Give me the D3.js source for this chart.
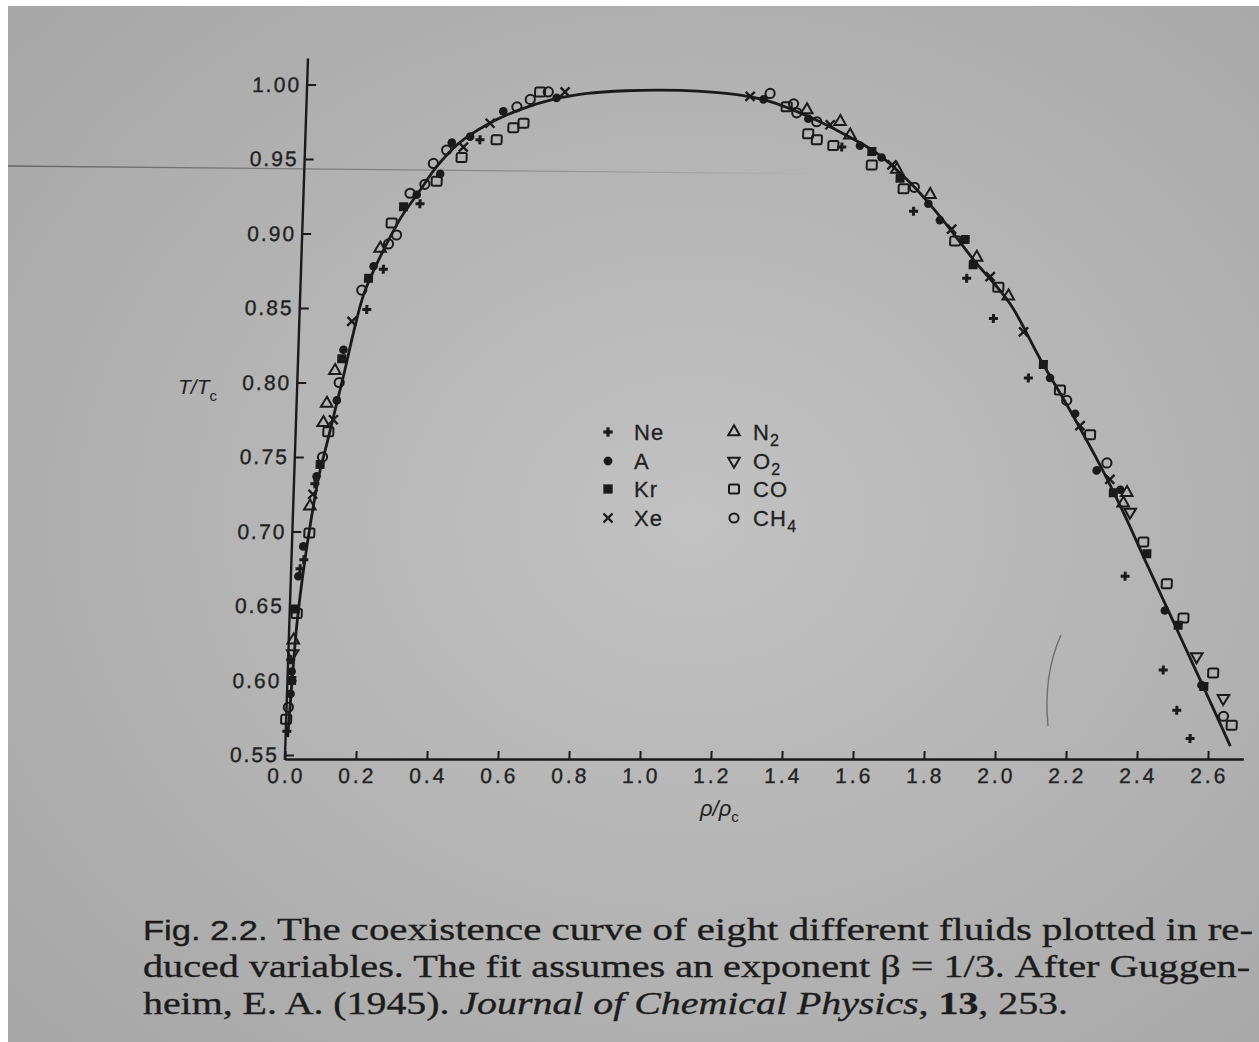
<!DOCTYPE html>
<html><head><meta charset="utf-8">
<script src="https://cdn.jsdelivr.net/npm/d3@7"></script>
<style>body{margin:0;background:#b4b4b4;} svg{display:block}</style>
</head><body><svg id="c" width="1259" height="1042"></svg>
<script>
// ---------- data ----------
const xTicks = [0,0.2,0.4,0.6,0.8,1.0,1.2,1.4,1.6,1.8,2.0,2.2,2.4,2.6];
const xTickLabels = ["0.0","0.2","0.4","0.6","0.8","1.0","1.2","1.4","1.6","1.8","2.0","2.2","2.4","2.6"];
const yTicks = [0.55,0.60,0.65,0.70,0.75,0.80,0.85,0.90,0.95,1.00];
const yTickLabels = ["0.55","0.60","0.65","0.70","0.75","0.80","0.85","0.90","0.95","1.00"];

// fitted coexistence curve
const curveRho = [0.006,0.013,0.022,0.034,0.049,0.070,0.090,0.113,0.130,0.155,0.180,0.225,0.275,0.328,0.373,0.430,0.510,0.600,0.694,0.790,0.900,1.000,1.100,1.200,1.300,1.420,1.515,1.611,1.708,1.800,1.895,2.000,2.090,2.190,2.270,2.345,2.400,2.460,2.520,2.580,2.662];
const curveT   = [0.562,0.600,0.640,0.672,0.703,0.738,0.760,0.786,0.805,0.835,0.860,0.886,0.910,0.929,0.945,0.960,0.973,0.983,0.990,0.994,0.9958,0.9962,0.9955,0.9935,0.989,0.978,0.967,0.954,0.934,0.910,0.882,0.853,0.816,0.777,0.744,0.710,0.683,0.654,0.625,0.596,0.556];

// measured points [rho/rho_c, T/T_c]
const Ne = [[0.003,0.566],[0.007,0.614],[0.025,0.675],[0.035,0.681],[0.059,0.732],[0.189,0.849],[0.232,0.876],[0.329,0.920],[0.492,0.963],
            [1.512,0.958],[1.720,0.915],[1.876,0.870],[1.955,0.843],[2.059,0.803],[2.350,0.670],[2.466,0.607],[2.508,0.580],[2.548,0.561]];
const Ar = [[0.010,0.591],[0.011,0.606],[0.021,0.670],[0.032,0.690],[0.063,0.737],[0.113,0.788],[0.127,0.822],[0.204,0.878],[0.319,0.926],[0.383,0.940],[0.413,0.961],[0.464,0.965],[0.555,0.982],[0.704,0.991],
            [1.287,0.990],[1.415,0.977],[1.563,0.959],[1.625,0.951],[1.761,0.920],[1.795,0.909],[2.120,0.803],[2.194,0.779],[2.260,0.741],[2.328,0.728],[2.465,0.647],[2.575,0.597]];
const Kr = [[0.012,0.600],[0.016,0.648],[0.072,0.745],[0.123,0.816],[0.191,0.870],[0.283,0.918],
            [1.597,0.955],[1.679,0.937],[1.868,0.896],[1.893,0.879],[2.100,0.812],[2.309,0.726],[2.409,0.685],[2.504,0.637],[2.582,0.596]];
const Xe = [[0.054,0.725],[0.105,0.775],[0.148,0.841],[0.446,0.958],[0.519,0.974],[0.727,0.995],
            [1.249,0.992],[1.477,0.973],[1.655,0.946],[1.829,0.903],[1.942,0.871],[2.041,0.834],[2.209,0.771],[2.298,0.735]];
const N2 = [[0.013,0.627],[0.047,0.717],[0.077,0.773],[0.085,0.786],[0.105,0.808],[0.221,0.890],
            [1.410,0.983],[1.505,0.975],[1.534,0.966],[1.669,0.943],[1.765,0.926],[1.902,0.884],[1.995,0.858],[2.347,0.726],[2.338,0.719]];
const O2 = [[0.012,0.618],[2.358,0.713],[2.559,0.616],[2.638,0.588]];
const CO = [[0.000,0.574],[0.020,0.645],[0.048,0.699],[0.092,0.767],[0.251,0.907],[0.374,0.935],[0.442,0.951],[0.539,0.963],[0.585,0.971],[0.613,0.974],[0.657,0.995],
            [1.353,0.985],[1.416,0.967],[1.441,0.963],[1.488,0.959],[1.598,0.946],[1.690,0.930],[1.840,0.895],[1.966,0.864],[2.149,0.795],[2.238,0.765],[2.398,0.693],[2.468,0.665],[2.518,0.642],[2.607,0.605],[2.664,0.570]];
const CH4 = [[0.005,0.582],[0.078,0.750],[0.118,0.800],[0.173,0.862],[0.244,0.893],[0.266,0.899],[0.300,0.927],[0.341,0.933],[0.363,0.947],[0.399,0.956],[0.593,0.985],[0.630,0.990],[0.680,0.995],
            [1.305,0.994],[1.372,0.987],[1.382,0.981],[1.439,0.975],[1.720,0.931],[2.169,0.788],[2.288,0.746],[2.640,0.576]];

const legendNames = ["Ne","A","Kr","Xe","N","O","CO","CH"];
const legendSubs  = ["","","","","2","2","","4"];
const symbolKeys  = ["plus","dot","fsq","times","tri","tridown","osq","ocirc"];
const seriesData  = [Ne, Ar, Kr, Xe, N2, O2, CO, CH4];

// ---------- drawing ----------
const W = 1259, H = 1042;
const ink = "#1a1a1a";
const svg = d3.select("#c");
const defs = svg.append("defs");
const rg = defs.append("radialGradient").attr("id","bg").attr("cx","55%").attr("cy","50%").attr("r","72%");
rg.append("stop").attr("offset","0%").attr("stop-color","#c2c2c2");
rg.append("stop").attr("offset","100%").attr("stop-color","#a7a7a7");
const lg = defs.append("linearGradient").attr("id","scan").attr("x1","0%").attr("x2","100%");
lg.append("stop").attr("offset","0%").attr("stop-color","#555").attr("stop-opacity",0.8);
lg.append("stop").attr("offset","60%").attr("stop-color","#555").attr("stop-opacity",0.45);
lg.append("stop").attr("offset","100%").attr("stop-color","#555").attr("stop-opacity",0);

svg.append("rect").attr("width",W).attr("height",H).attr("fill","url(#bg)");
svg.append("rect").attr("width",W).attr("height",6).attr("fill","#fff");
svg.append("rect").attr("width",8).attr("height",H).attr("fill","#fff");

// faint scan line & pen mark (photo artefacts)
svg.append("path").attr("d","M8,166 L820,174").attr("stroke","url(#scan)").attr("stroke-width",1.3).attr("fill","none");
svg.append("path").attr("d","M1061,635 Q1043,675 1048,726").attr("stroke","#6e6e6e").attr("stroke-width",1.4).attr("fill","none");

const x = d3.scaleLinear().domain([0, 2.7]).range([285, 285 + 355*2.7]);
const y = d3.scaleLinear().domain([0.55, 1.0175]).range([755, 755 - 1490*0.4675]);
const Y0 = y(0.55);
const g = svg.append("g").attr("transform", `translate(0,${Y0}) skewX(-1.89) translate(0,${-Y0})`);

// axes
const xAxisY = Y0 + 4;
const yAxis = d3.axisLeft(y).tickValues(yTicks).tickFormat((d,i)=>yTickLabels[i])
  .tickSize(-9).tickSizeOuter(0).tickPadding(8);
const ya = g.append("g").attr("transform",`translate(${x(0)},0)`).call(yAxis);
ya.select(".domain").remove();
g.append("line").attr("x1",x(0)).attr("x2",x(0)).attr("y1",xAxisY+1).attr("y2",y(1.0175))
  .attr("stroke",ink).attr("stroke-width",2.4);

const xAxis = d3.axisBottom(x).tickValues(xTicks).tickFormat((d,i)=>xTickLabels[i])
  .tickSize(-8).tickSizeOuter(0).tickPadding(9);
const xa = g.append("g").attr("transform",`translate(0,${xAxisY})`).call(xAxis);

[ya, xa].forEach(a=>{
  a.attr("font-family","'Liberation Sans', Arial, sans-serif").attr("font-size",21);
  a.selectAll(".domain").attr("stroke",ink).attr("stroke-width",2.4);
  a.selectAll(".tick line").attr("stroke",ink).attr("stroke-width",2);
  a.selectAll(".tick text").attr("fill","#222").attr("stroke","#222").attr("stroke-width",0.35);
});
ya.selectAll(".tick text").attr("textLength",47).attr("lengthAdjust","spacing");
xa.selectAll(".tick text").attr("textLength",35).attr("lengthAdjust","spacing");

// fitted curve
const line = d3.line().x(d=>x(d[0])).y(d=>y(d[1])).curve(d3.curveCatmullRom.alpha(0.5));
g.append("path").datum(curveRho.map((r,i)=>[r,curveT[i]]))
  .attr("d",line).attr("fill","none").attr("stroke",ink).attr("stroke-width",2.8);

// marker drawing
function drawMarker(sel, key){
  switch(key){
    case "plus":
      sel.append("path").attr("d",d3.symbol(d3.symbolCross,45)()).attr("fill",ink); break;
    case "dot":
      sel.append("circle").attr("r",4.3).attr("fill",ink); break;
    case "fsq":
      sel.append("rect").attr("x",-4.5).attr("y",-4.5).attr("width",9).attr("height",9).attr("fill",ink); break;
    case "times":
      sel.append("path").attr("d","M-4.5,-4.5L4.5,4.5M-4.5,4.5L4.5,-4.5").attr("stroke",ink).attr("stroke-width",2.4).attr("fill","none"); break;
    case "tri":
      sel.append("path").attr("d",d3.symbol(d3.symbolTriangle,58)()).attr("fill","none").attr("stroke",ink).attr("stroke-width",2); break;
    case "tridown":
      sel.append("path").attr("d",d3.symbol(d3.symbolTriangle,58)()).attr("transform","rotate(180)").attr("fill","none").attr("stroke",ink).attr("stroke-width",2); break;
    case "osq":
      sel.append("rect").attr("x",-5).attr("y",-4.5).attr("width",10).attr("height",9).attr("rx",1.5).attr("fill","none").attr("stroke",ink).attr("stroke-width",2); break;
    case "ocirc":
      sel.append("circle").attr("r",4.6).attr("fill","none").attr("stroke",ink).attr("stroke-width",2); break;
  }
}

seriesData.forEach((data, si)=>{
  const grp = g.append("g").attr("class","series-"+legendNames[si]);
  grp.selectAll("g").data(data).join("g")
    .attr("transform", d=>`translate(${x(d[0])},${y(d[1])})`)
    .each(function(){ drawMarker(d3.select(this), symbolKeys[si]); });
});

// legend
const legend = svg.append("g").attr("font-family","'Liberation Sans', Arial, sans-serif").attr("font-size",22)
  .attr("fill","#222").attr("stroke","#222").attr("stroke-width",0.3);
const rowY = [432, 461, 489, 518];
legendNames.forEach((nm, i)=>{
  const col = Math.floor(i/4), row = i%4;
  const mx = col===0 ? 608 : 734, tx = col===0 ? 634 : 753;
  const mg = legend.append("g").attr("transform",`translate(${mx},${rowY[row]})`).attr("stroke-width",null);
  drawMarker(mg, symbolKeys[i]);
  const t = legend.append("text").attr("x",tx).attr("y",rowY[row]+8).attr("letter-spacing",1.2).text(nm);
  if(legendSubs[i]) t.append("tspan").attr("font-size",16).attr("dy",6).text(legendSubs[i]);
});

// axis titles
const yt = svg.append("text").attr("x",178).attr("y",394).attr("font-family","'Liberation Sans', Arial, sans-serif")
  .attr("font-size",21).attr("font-style","italic").attr("fill","#222").text("T/T");
yt.append("tspan").attr("font-size",15).attr("font-style","normal").attr("dy",7).text("c");
const xt = svg.append("text").attr("x",700).attr("y",816).attr("font-family","'Liberation Sans', Arial, sans-serif")
  .attr("font-size",22).attr("font-style","italic").attr("fill","#222").text("ρ/ρ");
xt.append("tspan").attr("font-size",15).attr("font-style","normal").attr("dy",6).text("c");

// caption
const cap = svg.append("g").attr("fill","#1c1c1c").attr("stroke","#1c1c1c").attr("stroke-width",0.35)
  .attr("font-family","'Liberation Serif', 'DejaVu Serif', serif").attr("font-size",32);
const l1 = cap.append("text").attr("x",143).attr("y",940).attr("textLength",1110).attr("lengthAdjust","spacingAndGlyphs");
l1.append("tspan").attr("font-family","'Liberation Sans', Arial, sans-serif").attr("font-size",27).text("Fig. 2.2. ");
l1.append("tspan").text("The coexistence curve of eight different fluids plotted in re-");
cap.append("text").attr("x",143).attr("y",977).attr("textLength",1107).attr("lengthAdjust","spacingAndGlyphs")
  .text("duced variables. The fit assumes an exponent β = 1/3. After Guggen-");
const l3 = cap.append("text").attr("x",143).attr("y",1014).attr("textLength",925).attr("lengthAdjust","spacingAndGlyphs");
l3.append("tspan").text("heim, E. A. (1945). ");
l3.append("tspan").attr("font-style","italic").text("Journal of Chemical Physics");
l3.append("tspan").text(", ");
l3.append("tspan").attr("font-weight","bold").text("13");
l3.append("tspan").text(", 253.");
</script>
</body></html>
